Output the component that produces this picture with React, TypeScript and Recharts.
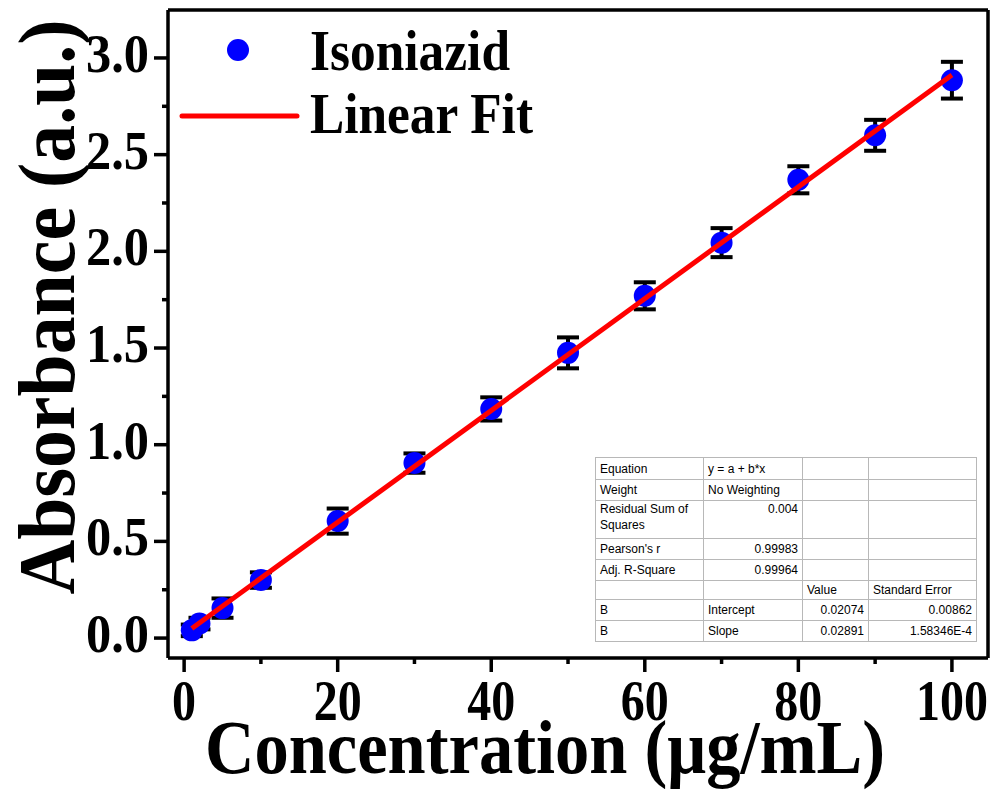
import React from 'react'
import {
  ScatterChart,
  Scatter,
  XAxis,
  YAxis,
  ErrorBar,
  Legend,
  Label,
  ReferenceLine,
} from 'recharts'

// concentration (µg/mL) and absorbance
const conc = [1, 2, 5, 10, 20, 30, 40, 50, 60, 70, 80, 90, 100]
const absorbance = [0.04, 0.075, 0.155, 0.3, 0.605, 0.905, 1.185, 1.475, 1.77, 2.045, 2.37, 2.6, 2.885]
const absErr = [0.03, 0.03, 0.05, 0.04, 0.065, 0.05, 0.06, 0.08, 0.07, 0.075, 0.07, 0.08, 0.095]

// linear fit end points
const fitX = [1, 100]
const fitY = [0.0497, 2.9117]

const xMajor = [0, 20, 40, 60, 80, 100]
const xTicks = [0, 10, 20, 30, 40, 50, 60, 70, 80, 90, 100]
const yMajor = [0, 0.5, 1, 1.5, 2, 2.5, 3]
const yTicks = [0, 0.25, 0.5, 0.75, 1, 1.25, 1.5, 1.75, 2, 2.25, 2.5, 2.75, 3]

const xDomain = [-2.1, 104.7]
const yDomain = [-0.103, 3.248]

const fitTable = [
  ['Equation', 'y = a + b*x', '', ''],
  ['Weight', 'No Weighting', '', ''],
  ['Residual Sum of Squares', '0.004', '', ''],
  ["Pearson's r", '0.99983', '', ''],
  ['Adj. R-Square', '0.99964', '', ''],
  ['', '', 'Value', 'Standard Error'],
  ['B', 'Intercept', '0.02074', '0.00862'],
  ['B', 'Slope', '0.02891', '1.58346E-4'],
]
const rowHeights = [22, 21, 38, 21, 21, 19, 21, 21]
const colWidths = [108, 99, 66, 108]

const points = conc.map((c, i) => ({ x: c, y: absorbance[i], err: absErr[i] }))
const fit = fitX.map((x, i) => ({ x, y: fitY[i] }))

const SERIF = '"Liberation Serif", "Times New Roman", serif'
const AXIS = { stroke: '#000', strokeWidth: 3.5 }

function XTick(props: any) {
  const { x, y, payload } = props
  const major = xMajor.includes(payload.value)
  const label = String(payload.value)
  return (
    <g>
      <line x1={x} x2={x} y1={y} y2={y + (major ? 14 : 6)} stroke="#000" strokeWidth={3.5} />
      {major && (
        <text
          x={x}
          y={y + 62}
          textAnchor="middle"
          fontFamily={SERIF}
          fontWeight="bold"
          fontSize={57}
          fill="#000"
          textLength={label.length * 24}
          lengthAdjust="spacingAndGlyphs"
        >
          {label}
        </text>
      )}
    </g>
  )
}

function YTick(props: any) {
  const { x, y, payload } = props
  const major = yMajor.some((v) => Math.abs(v - payload.value) < 1e-6)
  return (
    <g>
      <line x1={x} x2={x - (major ? 14 : 6)} y1={y} y2={y} stroke="#000" strokeWidth={3.5} />
      {major && (
        <text
          x={x - 19}
          y={y + 14}
          textAnchor="end"
          fontFamily={SERIF}
          fontWeight="bold"
          fontSize={55}
          fill="#000"
          textLength={63}
          lengthAdjust="spacingAndGlyphs"
        >
          {payload.value.toFixed(1)}
        </text>
      )}
    </g>
  )
}

function LegendBox() {
  return (
    <svg width={400} height={130}>
      <circle cx={68} cy={30} r={11} fill="#0000ff" />
      <text x={140} y={50} fontFamily={SERIF} fontWeight="bold" fontSize={58} textLength={200} lengthAdjust="spacingAndGlyphs">
        Isoniazid
      </text>
      <line x1={12} x2={127} y1={96} y2={96} stroke="#ff0000" strokeWidth={5} strokeLinecap="round" />
      <text x={140} y={113} fontFamily={SERIF} fontWeight="bold" fontSize={58} textLength={223} lengthAdjust="spacingAndGlyphs">
        Linear Fit
      </text>
    </svg>
  )
}

function FitTable() {
  return (
    <table
      style={{
        position: 'absolute',
        left: 595,
        top: 457,
        borderCollapse: 'collapse',
        fontFamily: '"Liberation Sans", Arial, sans-serif',
        fontSize: 12,
        color: '#000',
        background: '#fff',
        border: '1.5px solid #555',
        tableLayout: 'fixed',
      }}
    >
      <tbody>
        {fitTable.map((row, r) => (
          <tr key={r} style={{ height: rowHeights[r] }}>
            {row.map((cell, c) => {
              const right = (c === 1 && r >= 2 && r <= 4) || (c >= 2 && r >= 6)
              return (
                <td
                  key={c}
                  style={{
                    width: colWidths[c],
                    border: '1px solid #b8b8b8',
                    padding: '0 4px',
                    textAlign: right ? 'right' : 'left',
                    verticalAlign: r === 2 ? 'top' : 'middle',
                    lineHeight: '16px',
                    boxSizing: 'border-box',
                  }}
                >
                  {cell}
                </td>
              )
            })}
          </tr>
        ))}
      </tbody>
    </table>
  )
}

export default function App() {
  return (
    <div style={{ position: 'absolute', left: 0, top: 0, width: 995, height: 791, background: '#fff' }}>
      <ScatterChart width={995} height={791} margin={{ top: 10, right: 7, left: 0, bottom: 0 }}>
        <XAxis
          type="number"
          dataKey="x"
          domain={xDomain}
          ticks={xTicks}
          interval={0}
          tick={<XTick />}
          tickSize={0}
          tickMargin={0}
          tickLine={false}
          axisLine={AXIS}
          height={133}
          allowDataOverflow
        >
          <Label
            content={() => (
              <text
                x={545}
                y={773}
                textAnchor="middle"
                fontFamily={SERIF}
                fontWeight="bold"
                fontSize={77}
                textLength={680}
                lengthAdjust="spacingAndGlyphs"
              >
                Concentration (μg/mL)
              </text>
            )}
          />
        </XAxis>
        <YAxis
          type="number"
          dataKey="y"
          domain={yDomain}
          ticks={yTicks}
          interval={0}
          tick={<YTick />}
          tickSize={0}
          tickMargin={0}
          tickLine={false}
          axisLine={AXIS}
          width={168}
          allowDataOverflow
        >
          <Label
            content={() => (
              <text
                x={74}
                y={307}
                transform="rotate(-90 74 307)"
                textAnchor="middle"
                fontFamily={SERIF}
                fontWeight="bold"
                fontSize={80}
                textLength={575}
                lengthAdjust="spacingAndGlyphs"
              >
                Absorbance (a.u.)
              </text>
            )}
          />
        </YAxis>
        <ReferenceLine y={yDomain[1]} stroke="#000" strokeWidth={3.5} />
        <ReferenceLine x={xDomain[1]} stroke="#000" strokeWidth={3.5} />
        <Legend layout="vertical" align="center" verticalAlign="middle" wrapperStyle={{ top: 20, left: 170, width: 400 }} content={() => <LegendBox />} />
        <Scatter name="errors" data={points} isAnimationActive={false} shape={() => null} legendType="none">
          <ErrorBar dataKey="err" direction="y" width={11} strokeWidth={4} stroke="#000" />
        </Scatter>
        <Scatter name="Isoniazid" data={points} fill="#0000ff" isAnimationActive={false} shape={(p: any) => <circle cx={p.cx} cy={p.cy} r={11} fill="#0000ff" />} />
        <Scatter name="Linear Fit" data={fit} line={{ stroke: '#ff0000', strokeWidth: 5 }} shape={() => null} isAnimationActive={false} />
      </ScatterChart>
      <FitTable />
    </div>
  )
}
